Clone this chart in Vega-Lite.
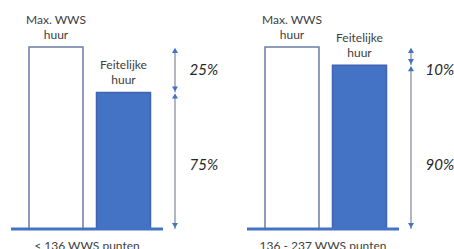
{
  "$schema": "https://vega.github.io/schema/vega-lite/v6.json",
  "padding": {"left": 9, "top": 0, "right": 0, "bottom": 0},
  "background": "white",
  "config": {"view": {"stroke": null}, "font": "Lato"},
  "data": {
    "values": [
      {"groep": "< 136 WWS punten", "soort": "Max. WWS\nhuur", "huur": 100},
      {"groep": "< 136 WWS punten", "soort": "Feitelijke\nhuur", "huur": 75},
      {"groep": "< 136 WWS punten", "deel": "boven", "van": 100, "tot": 75, "aandeel": "25%"},
      {"groep": "< 136 WWS punten", "deel": "onder", "van": 75, "tot": 0, "aandeel": "75%"},
      {"groep": "136 - 237 WWS punten", "soort": "Max. WWS\nhuur", "huur": 100},
      {"groep": "136 - 237 WWS punten", "soort": "Feitelijke\nhuur", "huur": 90},
      {"groep": "136 - 237 WWS punten", "deel": "boven", "van": 100, "tot": 90, "aandeel": "10%"},
      {"groep": "136 - 237 WWS punten", "deel": "onder", "van": 90, "tot": 0, "aandeel": "90%"}
    ]
  },
  "facet": {
    "column": {
      "field": "groep",
      "type": "nominal",
      "sort": ["< 136 WWS punten", "136 - 237 WWS punten"],
      "header": {"title": null, "labelOrient": "bottom", "labelFontSize": 12, "labelFont": "Lato", "labelColor": "#404040", "labelPadding": 12}
    }
  },
  "spacing": 84,
  "bounds": "flush",
  "resolve": {"scale": {"x": "shared", "y": "shared"}},
  "spec": {
    "width": 152,
    "height": 229,
    "encoding": {},
    "layer": [
      {
        "transform": [{"filter": "isValid(datum.huur)"}],
        "mark": {"type": "bar", "strokeWidth": 1.5},
        "encoding": {
          "x": {"field": "soort", "type": "nominal", "sort": ["Max. WWS\nhuur", "Feitelijke\nhuur"], "axis": null,
                "scale": {"paddingInner": 0.2, "paddingOuter": 0.226, "align": 0.59}},
          "y": {"field": "huur", "type": "quantitative", "axis": null, "scale": {"domain": [0, 125.8], "nice": false}},
          "fill": {"field": "soort", "type": "nominal", "legend": null, "scale": {"domain": ["Max. WWS\nhuur", "Feitelijke\nhuur"], "range": ["#ffffff", "#4472C4"]}},
          "stroke": {"field": "soort", "type": "nominal", "legend": null, "scale": {"domain": ["Max. WWS\nhuur", "Feitelijke\nhuur"], "range": ["#6a7ca4", "#3e66b0"]}}
        }
      },
      {
        "transform": [{"filter": "isValid(datum.huur)"}],
        "mark": {"type": "text", "lineBreak": "\n", "baseline": "bottom", "dy": -20, "fontSize": 12, "lineHeight": 15, "color": "#404040", "font": "Lato"},
        "encoding": {
          "x": {"field": "soort", "type": "nominal", "sort": ["Max. WWS\nhuur", "Feitelijke\nhuur"]},
          "y": {"field": "huur", "type": "quantitative"},
          "text": {"field": "soort"}
        }
      },
      {
        "transform": [{"filter": "datum.deel == 'onder'"}],
        "mark": {"type": "rule", "color": "#4472C4", "strokeWidth": 3},
        "encoding": {"y": {"datum": 0}}
      },
      {
        "transform": [{"filter": "isValid(datum.deel)"}],
        "mark": {"type": "rule", "color": "#7f8699", "strokeWidth": 1.2, "xOffset": 51.5, "yOffset": 2},
        "encoding": {
          "x": {"datum": "Feitelijke\nhuur"},
          "y": {"field": "van", "type": "quantitative"},
          "y2": {"field": "tot"}
        }
      },
      {
        "transform": [{"filter": "isValid(datum.deel)"}],
        "mark": {"type": "point", "shape": "triangle-up", "filled": true, "size": 36, "opacity": 1, "color": "#4472C4", "xOffset": 51.5, "yOffset": 3.5},
        "encoding": {
          "x": {"datum": "Feitelijke\nhuur"},
          "y": {"field": "van", "type": "quantitative"}
        }
      },
      {
        "transform": [{"filter": "isValid(datum.deel)"}],
        "mark": {"type": "point", "shape": "triangle-down", "filled": true, "size": 36, "opacity": 1, "color": "#4472C4", "xOffset": 51.5, "yOffset": -3.5},
        "encoding": {
          "x": {"datum": "Feitelijke\nhuur"},
          "y": {"field": "tot", "type": "quantitative"}
        }
      },
      {
        "transform": [{"filter": "datum.deel == 'boven'"}],
        "mark": {"type": "text", "align": "left", "baseline": "middle", "dx": 66, "dy": 23, "fontSize": 15, "fontStyle": "italic", "color": "#262626", "font": "Lato"},
        "encoding": {
          "x": {"datum": "Feitelijke\nhuur"},
          "y": {"field": "van", "type": "quantitative"},
          "text": {"field": "aandeel"}
        }
      },
      {
        "transform": [{"filter": "datum.deel == 'onder'"}],
        "mark": {"type": "text", "align": "left", "baseline": "middle", "dx": 66, "dy": -64, "fontSize": 15, "fontStyle": "italic", "color": "#262626", "font": "Lato"},
        "encoding": {
          "x": {"datum": "Feitelijke\nhuur"},
          "y": {"field": "tot", "type": "quantitative"},
          "text": {"field": "aandeel"}
        }
      }
    ]
  }
}
